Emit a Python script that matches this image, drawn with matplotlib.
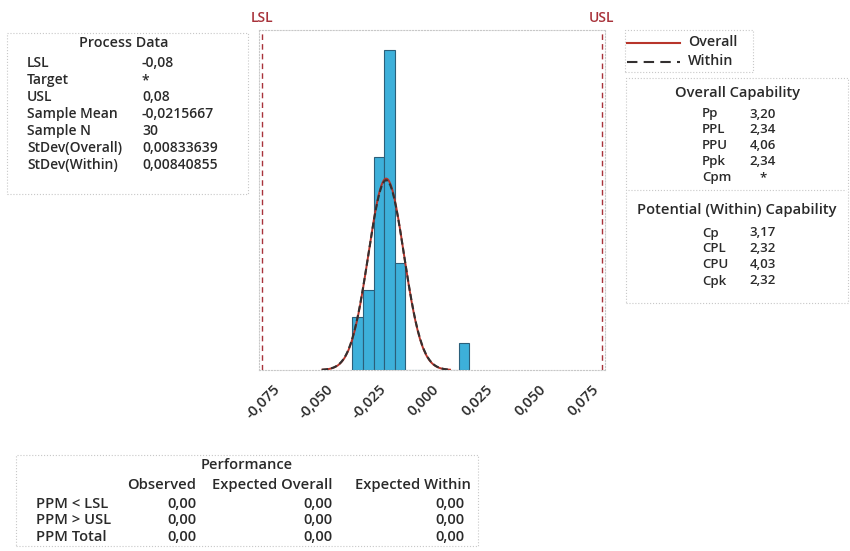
import numpy as np
import matplotlib
matplotlib.use("Agg")
import matplotlib.pyplot as plt
from matplotlib.patches import Rectangle
from matplotlib.lines import Line2D

plt.rcParams["font.family"] = ["Open Sans", "DejaVu Sans"]

# histogram of the 30 measurements
bin_centers = [-0.035, -0.030, -0.025, -0.020, -0.015, -0.010, -0.005, 0.000, 0.005, 0.010, 0.015]
counts = [2, 3, 8, 12, 4, 0, 0, 0, 0, 0, 1]
bin_width = 0.005

lsl, usl = -0.08, 0.08
sample_mean = -0.0215667
sample_n = 30
sd_overall = 0.00833639
sd_within = 0.00840855

tick_values = [-0.075, -0.050, -0.025, 0.000, 0.025, 0.050, 0.075]
tick_labels = ["-0,075", "-0,050", "-0,025", "0,000", "0,025", "0,050", "0,075"]

process_rows = [("LSL", "-0,08"), ("Target", "*"), ("USL", "0,08"),
                ("Sample Mean", "-0,0215667"), ("Sample N", "30"),
                ("StDev(Overall)", "0,00833639"), ("StDev(Within)", "0,00840855")]
overall_rows = [("Pp", "3,20"), ("PPL", "2,34"), ("PPU", "4,06"), ("Ppk", "2,34"), ("Cpm", "*")]
within_rows = [("Cp", "3,17"), ("CPL", "2,32"), ("CPU", "4,03"), ("Cpk", "2,32")]
perf_cols = ["Observed", "Expected Overall", "Expected Within"]
perf_rows = [("PPM < LSL", ["0,00", "0,00", "0,00"]),
             ("PPM > USL", ["0,00", "0,00", "0,00"]),
             ("PPM Total", ["0,00", "0,00", "0,00"])]

W, H = 850, 551
INK = "#2a2a2a"
SPEC = "#A8323A"
FRAME = "#c8c8c8"
OVERALL = "#B8352B"
WITHIN = "#333030"
FS = 9.5

fig = plt.figure(figsize=(W / 100, H / 100), dpi=100)


def fx(x):
    return x / W


def fy(y):
    return 1 - y / H


def txt(x, y, s, ha="left", **kw):
    kw.setdefault("fontsize", FS)
    kw.setdefault("color", INK)
    kw.setdefault("fontweight", "semibold")
    fig.text(fx(x), fy(y), s, ha=ha, va="center", **kw)


def box(x0, y0, x1, y1):
    fig.patches.append(Rectangle((fx(x0), fy(y1)), fx(x1) - fx(x0), fy(y0) - fy(y1),
                                 transform=fig.transFigure, fill=False,
                                 edgecolor=FRAME, linewidth=0.8, linestyle=":"))


# histogram panel
xl = 0.0815
ppu = 340 / (usl - lsl)
left_px = 432 - xl * ppu
ax = fig.add_axes([fx(left_px), fy(370), 2 * xl * ppu / W, (370 - 30) / H])
ax.bar(bin_centers, counts, width=bin_width, color="#3DB0DA",
       edgecolor="#2b5f7a", linewidth=0.8, zorder=2)

xs_o = np.linspace(sample_mean - 3.6 * sd_overall, sample_mean + 3.6 * sd_overall, 200)
xs_w = np.linspace(sample_mean - 3.6 * sd_within, sample_mean + 3.6 * sd_within, 200)
scale = sample_n * bin_width
pdf_o = scale * np.exp(-0.5 * ((xs_o - sample_mean) / sd_overall) ** 2) / (sd_overall * np.sqrt(2 * np.pi))
pdf_w = scale * np.exp(-0.5 * ((xs_w - sample_mean) / sd_within) ** 2) / (sd_within * np.sqrt(2 * np.pi))
ax.plot(xs_o, pdf_o, color=OVERALL, linewidth=1.4, zorder=3)
ax.plot(xs_w, pdf_w, color=WITHIN, linewidth=1.5, linestyle=(0, (3, 1.5)), zorder=4)

for v, name in [(lsl, "LSL"), (usl, "USL")]:
    ax.axvline(v, color=SPEC, linewidth=1.0, linestyle=(0, (4, 3)), zorder=1)
    ax.text(v, 1.035, name, transform=ax.get_xaxis_transform(), ha="center",
            va="center", color=SPEC, fontsize=10, fontweight="semibold")

ax.set_xlim(-xl, xl)
ax.set_ylim(0, 12.75)
ax.set_yticks([])
ax.set_xticks(tick_values)
ax.set_xticklabels(tick_labels, rotation=45, ha="right", va="top",
                   rotation_mode="anchor", fontsize=10.5, color=INK, fontweight="semibold")
ax.tick_params(axis="x", length=0, pad=9)
for sp in ax.spines.values():
    sp.set_color(FRAME)
    sp.set_linestyle(":")
    sp.set_linewidth(0.8)

# process data table
box(7, 33, 248, 194)
txt(124, 43, "Process Data", ha="center", fontsize=10.3)
for i, (k, v) in enumerate(process_rows):
    y = 63 + i * 17
    txt(27, y, k, fontsize=10)
    txt(142, y, v, fontsize=10)

# legend
box(625, 30, 753, 72)
fig.lines.append(Line2D([fx(627), fx(680)], [fy(43), fy(43)], transform=fig.transFigure,
                        color=OVERALL, linewidth=1.5))
fig.lines.append(Line2D([fx(627), fx(680)], [fy(62), fy(62)], transform=fig.transFigure,
                        color=WITHIN, linewidth=1.5, linestyle=(0, (5, 3))))
txt(688, 42, "Overall", fontsize=10.3)
txt(688, 61, "Within", fontsize=10.3)

# capability table
box(626, 78, 848, 303)
txt(738, 93, "Overall Capability", ha="center", fontsize=10.5)
for i, (k, v) in enumerate(overall_rows):
    y = 114 + i * 15.8
    txt(702, y, k)
    txt(763, y, v, ha="center")
fig.lines.append(Line2D([fx(628), fx(846)], [fy(190), fy(190)], transform=fig.transFigure,
                        color=FRAME, linewidth=0.8, linestyle=":"))
txt(737, 210, "Potential (Within) Capability", ha="center", fontsize=10.6)
for i, (k, v) in enumerate(within_rows):
    y = 233 + i * 16
    txt(702, y, k)
    txt(763, y, v, ha="center")

# performance table
box(16, 455, 478, 546)
txt(247, 465, "Performance", ha="center", fontsize=10.5)
head_right = [196, 332, 471]
val_right = [196, 332, 464]
for c, xr in zip(perf_cols, head_right):
    txt(xr, 485, c, ha="right", fontsize=10.6)
for i, (k, vals) in enumerate(perf_rows):
    y = 504 + i * 16.5
    txt(36, y, k, fontsize=10.6)
    for v, xr in zip(vals, val_right):
        txt(xr, y, v, ha="right", fontsize=10.6)

fig.savefig("out.png", dpi=100, facecolor="white")
